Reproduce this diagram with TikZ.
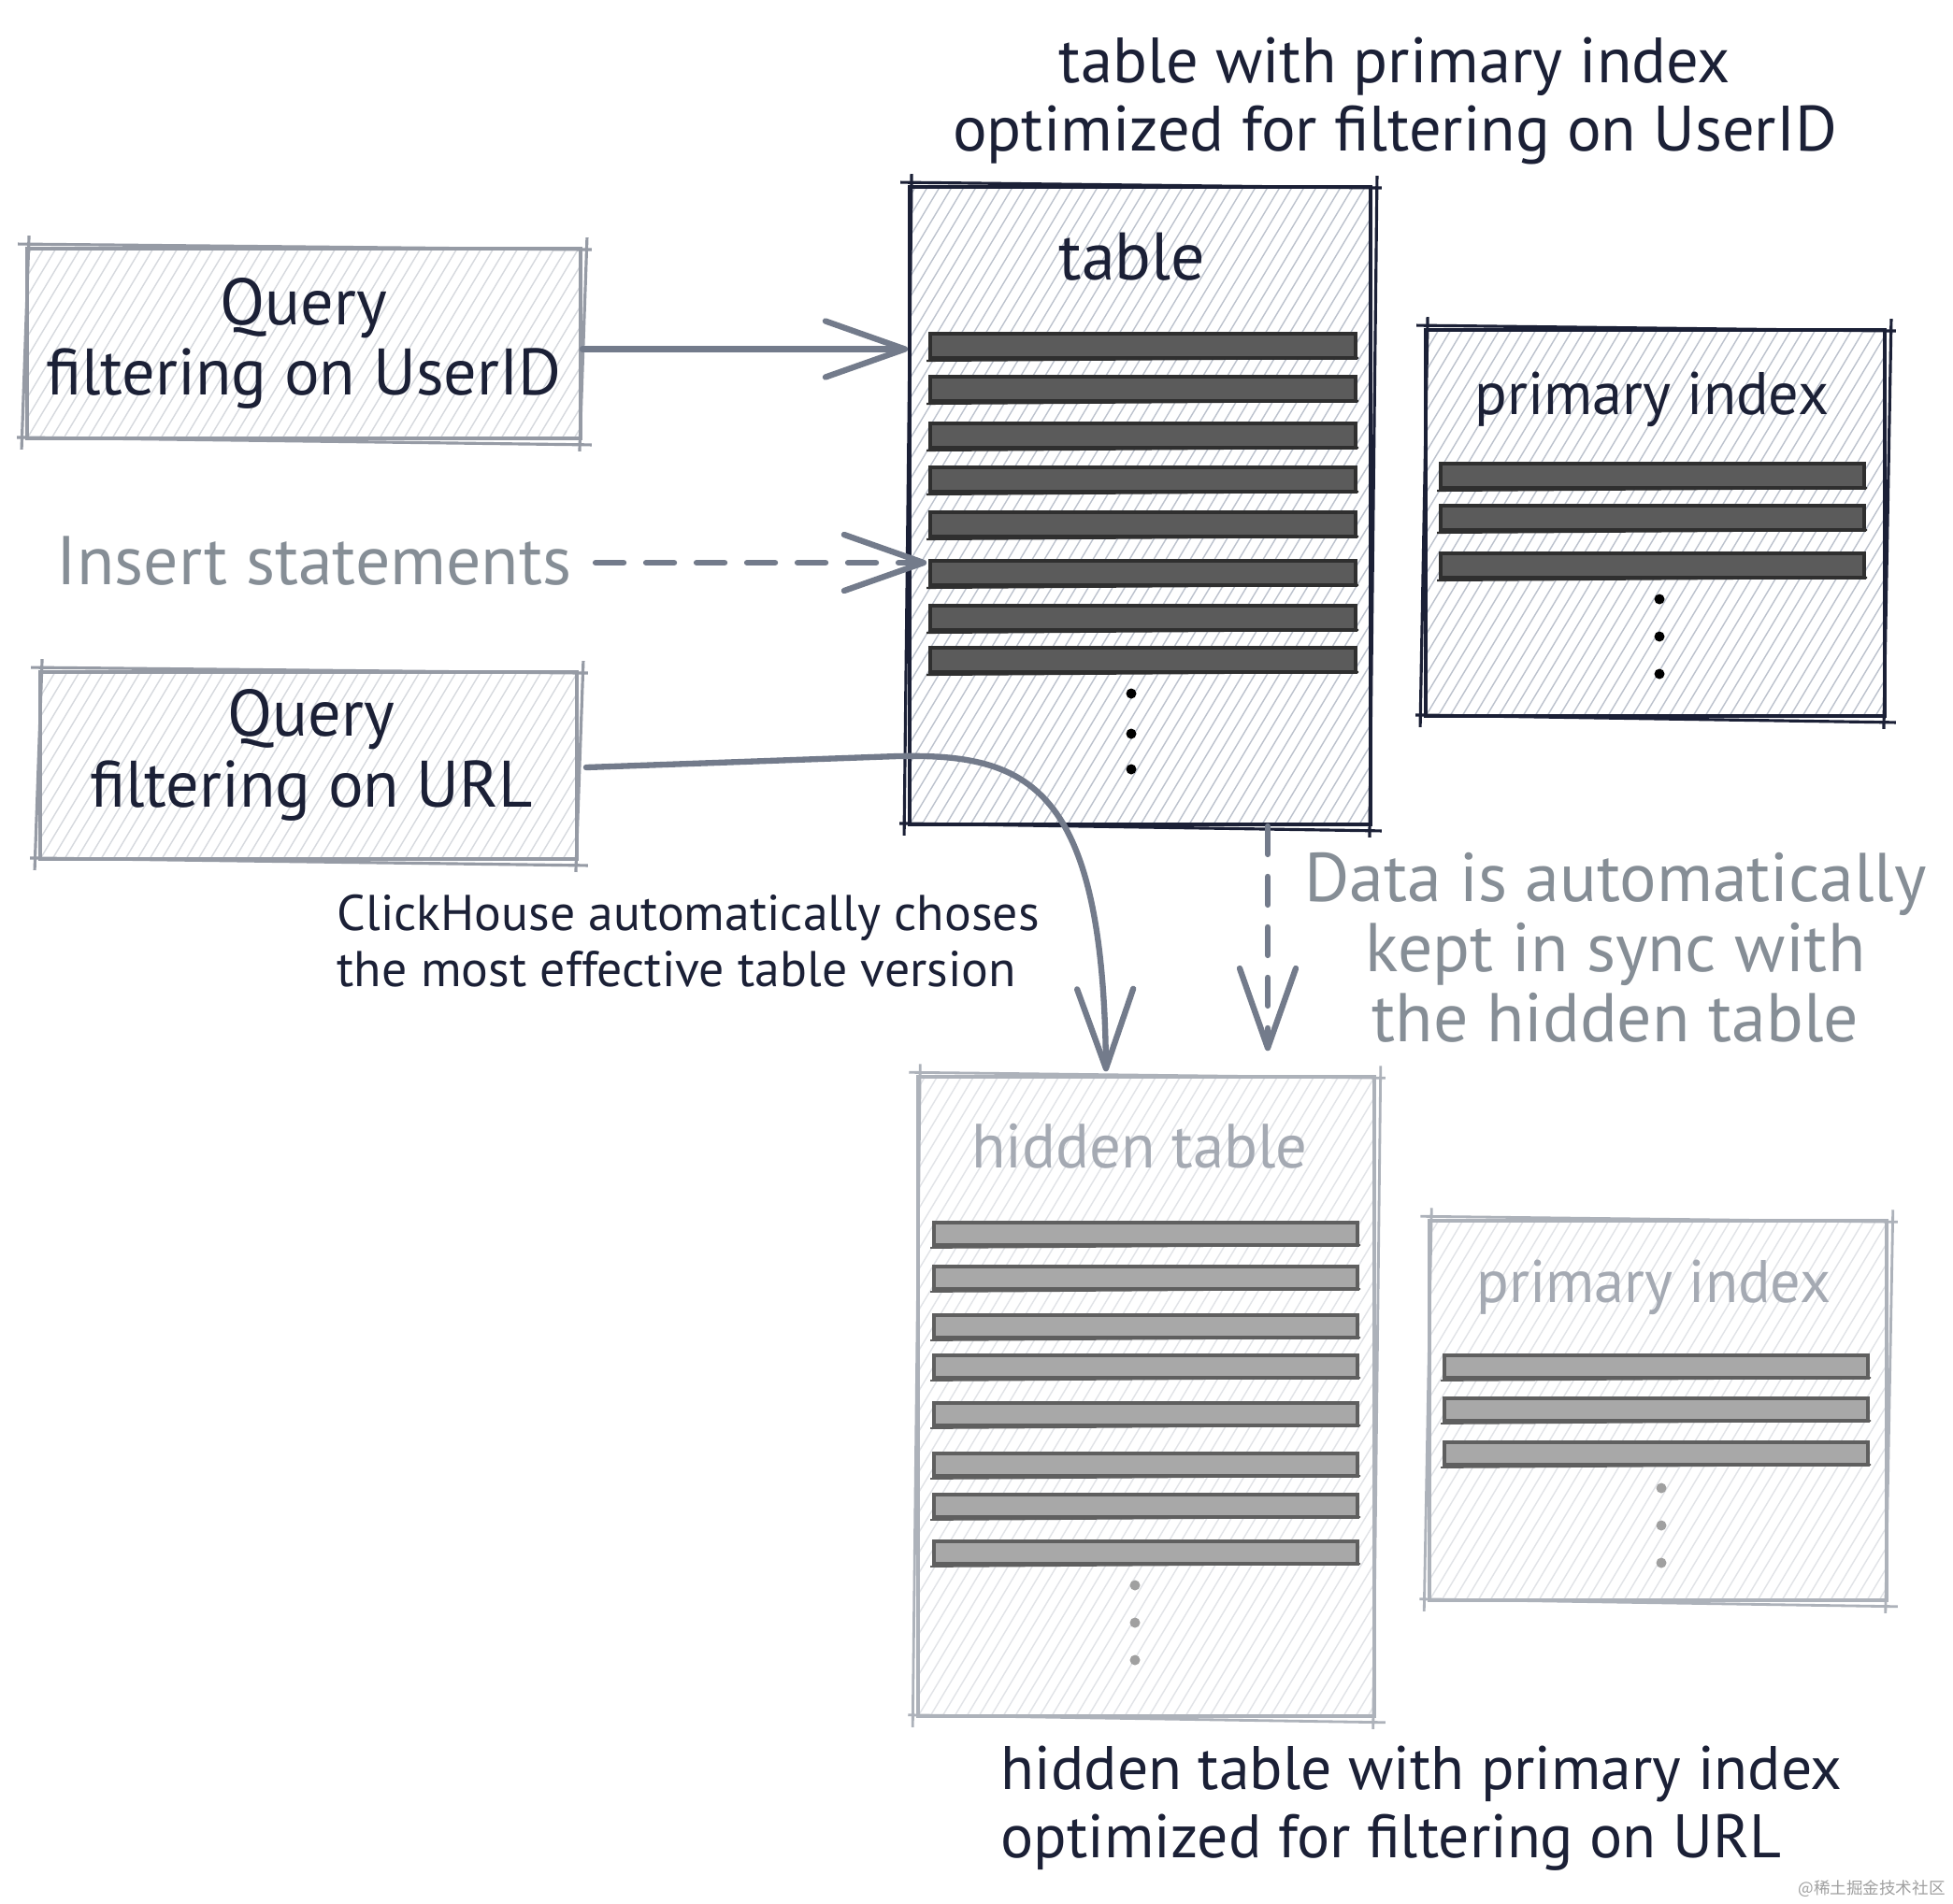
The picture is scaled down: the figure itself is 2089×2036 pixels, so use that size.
\documentclass[tikz,border=0pt]{standalone}
\usepackage{fontspec}
\setmainfont{PT Sans}
\newfontfamily\cjkfont{Noto Sans CJK SC}
\usetikzlibrary{arrows.meta}
\definecolor{navy}{HTML}{1B2036}
\definecolor{gtext}{HTML}{868E96}
\definecolor{astroke}{HTML}{737B8B}
\definecolor{qborder}{HTML}{969BA5}
\definecolor{hborder}{HTML}{ADB2BA}
\definecolor{hatchA}{HTML}{BCC2CD}
\definecolor{hatchB}{HTML}{D6D9DE}
\definecolor{hatchC}{HTML}{E1E3E7}
\definecolor{rowfill}{HTML}{5B5B5B}
\definecolor{rowline}{HTML}{2F2F2F}
\definecolor{hrowfill}{HTML}{A8A8A8}
\definecolor{hrowline}{HTML}{5F5F5F}
\definecolor{htext}{HTML}{A5AAB3}
\definecolor{hdot}{HTML}{A0A0A0}
\newcommand\skbox[3]{%
  \draw[#2, line width=#3] ([shift={(-8,-3)}]#1.north west) -- ([shift={(10,3)}]#1.north east);
  \draw[#2, line width=#3] ([shift={(5,-10)}]#1.north east) -- ([shift={(-3,12)}]#1.south east);
  \draw[#2, line width=#3] ([shift={(10,5)}]#1.south east) -- ([shift={(-9,-3)}]#1.south west);
  \draw[#2, line width=#3] ([shift={(-4,10)}]#1.south west) -- ([shift={(4,-12)}]#1.north west);
}
\begin{document}
\begin{tikzpicture}[x=0.1mm, y=-0.1mm,
  hatched/.style={path picture={\foreach \i in {-40,...,52} \draw[#1, line width=0.4pt] (path picture bounding box.south west) ++(\i*13,0) -- ++(420,-700);}},
  tbox/.style={draw=navy, line width=1.1pt, hatched=hatchA, inner sep=0pt},
  qbox/.style={draw=qborder, line width=1.1pt, hatched=hatchB, inner sep=0pt, align=center, font=\fontsize{20}{21.5}\selectfont, text=navy},
  hbox/.style={draw=hborder, line width=1pt, hatched=hatchC, inner sep=0pt},
  lbl/.style={font=\fontsize{19.5}{21}\selectfont, text=navy, inner sep=0pt, align=center},
  arr/.style={draw=astroke, line width=1.8pt, line cap=round, -{Straight Barb[length=8.5mm, width=6mm, round]}},
  dsh/.style={dash pattern=on 3mm off 2.4mm},
  row/.style={fill=rowfill, draw=rowline, line width=1.1pt},
  rowsk/.style={draw=rowline, line width=0.6pt},
  hrow/.style={fill=hrowfill, draw=hrowline, line width=1pt},
  hrowsk/.style={draw=hrowline, line width=0.5pt},
]
\useasboundingbox[fill=white] (0,0) rectangle (2089,2036);

% boxes
\node[tbox, minimum width=49.3mm, minimum height=68.2mm] (t) at (1219.5,541) {};
\node[tbox, minimum width=49.1mm, minimum height=41.3mm] (pi) at (1770.5,559.5) {};
\node[qbox, minimum width=59.2mm, minimum height=20.3mm] (q1) at (325,367.5) {Query\\filtering on UserID};
\node[qbox, minimum width=57.4mm, minimum height=20mm] (q2) at (330,819) {};
\node[lbl, font=\fontsize{20}{21.5}\selectfont] (q2t) at (333,808) {Query\\filtering on URL};
\node[hbox, minimum width=48.8mm, minimum height=68.4mm] (ht) at (1226,1494) {};
\node[hbox, minimum width=48.9mm, minimum height=40.6mm] (hpi) at (1773.5,1509) {};

\skbox{t}{navy}{0.9pt}
\skbox{pi}{navy}{0.9pt}
\skbox{q1}{qborder}{0.9pt}
\skbox{q2}{qborder}{0.9pt}
\skbox{ht}{hborder}{0.8pt}
\skbox{hpi}{hborder}{0.8pt}

% labels
\node[lbl, font=\fontsize{19.5}{20.8}\selectfont] (title) at (1492,108) {table with primary index\\optimized for filtering on UserID};
\node[lbl, font=\fontsize{20.5}{22}\selectfont] (tl) at (1211,275) {table};
\node[lbl, font=\fontsize{18.3}{20}\selectfont] (pil) at (1767,427) {primary index};
\node[lbl, text=htext, font=\fontsize{19}{20}\selectfont] (htl) at (1219,1226) {hidden table};
\node[lbl, text=htext, font=\fontsize{18.3}{20}\selectfont] (hpil) at (1769,1377) {primary index};
\node[lbl, text=gtext, font=\fontsize{21}{22}\selectfont] (ins) at (336,600) {Insert statements};
\node[lbl, align=left, anchor=west, font=\fontsize{15.3}{17}\selectfont] (ch) at (360,1007) {ClickHouse automatically choses\\the most effective table version};
\node[lbl, text=gtext, font=\fontsize{21}{21.3}\selectfont] (dt) at (1728,1014) {Data is automatically\\kept in sync with\\the hidden table};
\node[lbl, align=left, anchor=west, font=\fontsize{18.7}{20.8}\selectfont] (bt) at (1070,1935) {hidden table with primary index\\optimized for filtering on URL};
\node[inner sep=0pt, text=hdot, font=\cjkfont\fontsize{5}{6}\selectfont] (wm) at (2002,2021) {@稀土掘金技术社区};

% rows of table
\foreach \y in {370,416,466,513,561,613,661,706} {
  \draw[row] (995,\y-13) rectangle (1450,\y+13);
  \draw[rowsk] (991,\y+16) -- (1453,\y+13);
}
\foreach \y in {742,785,823} \fill[black] (1210,\y) circle (0.55mm);
% primary index rows
\foreach \y in {509,554,605} {
  \draw[row] (1541,\y-13) rectangle (1994,\y+13);
  \draw[rowsk] (1537,\y+16) -- (1997,\y+13);
}
\foreach \y in {641,681,721} \fill[black] (1775,\y) circle (0.55mm);
% hidden table rows
\foreach \y in {1320,1367,1419,1462,1513,1567,1611,1661} {
  \draw[hrow] (999,\y-12) rectangle (1452,\y+12);
  \draw[hrowsk] (995,\y+15) -- (1455,\y+12);
}
\foreach \y in {1696,1736,1776} \fill[hdot] (1214,\y) circle (0.55mm);
% hidden primary index rows
\foreach \y in {1462,1508,1555} {
  \draw[hrow] (1545,\y-12) rectangle (1998,\y+12);
  \draw[hrowsk] (1541,\y+15) -- (2001,\y+12);
}
\foreach \y in {1592,1632,1672} \fill[hdot] (1777,\y) circle (0.55mm);

% connectors
\coordinate (a1) at ([shift={(0,6)}]q1.east);
\draw[arr] (a1) -- (a1 -| t.west);
\coordinate (a2) at ([shift={(25,2)}]ins.east);
\draw[arr, dsh] (a2) -- ([shift={(20,0)}]a2 -| t.west);
\coordinate (a3) at ([shift={(8,2)}]q2.east);
\coordinate (a3end) at ([shift={(-43,-4)}]ht.north);
\draw[arr] (a3) -- (960,809) .. controls (1100,806) and (1180,840) .. (a3end);
\coordinate (sync) at (1356,0);
\draw[arr, dsh] (t.south -| sync) -- ([shift={(0,-26)}]ht.north -| sync);
\end{tikzpicture}
\end{document}
